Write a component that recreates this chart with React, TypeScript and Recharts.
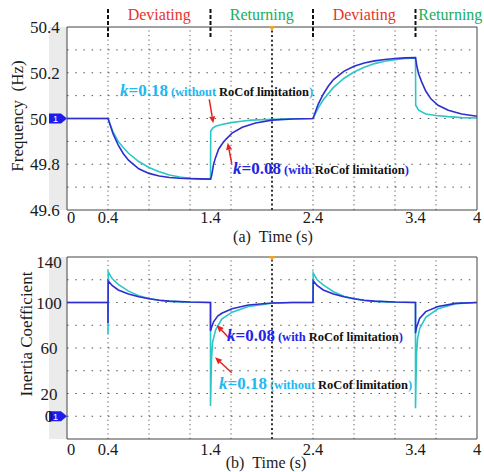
import React from 'react';
import { LineChart, Line, XAxis, YAxis, ReferenceLine, ReferenceDot, Label } from 'recharts';

const FONT = "'Liberation Serif', 'Times New Roman', Times, serif";
const BLUE = '#2e2ed0';
const CYAN = '#2cc6c8';
const RED = '#e52222';

// ---- axes / annotations ----
const timeTicks = [0, 0.4, 1.4, 2.4, 3.4, 4];
const timeGrid = [0.4, 0.8, 1.2, 1.6, 2.4, 2.8, 3.2, 3.6];
const timeCenter = 2;
const eventTimes = [0.4, 1.4, 2.4, 3.4];
const phaseLabels = ['Deviating', 'Returning', 'Deviating', 'Returning'];
const phaseColors = ['#e8332b', '#20ad5c', '#e8332b', '#20ad5c'];
const phaseCenters = [0.9, 1.9, 2.9, 3.74];

const freqTicks = [49.6, 49.8, 50, 50.2, 50.4];
const freqGrid = [49.7, 49.8, 49.9, 50, 50.1, 50.2, 50.3];
const inertiaTicks = [0, 20, 60, 100, 140];
const inertiaGrid = [0, 20, 40, 60, 80, 100, 120];

const minorTime = Array.from({ length: 51 }, (_, i) => +(i * 0.08).toFixed(2));
const minorFreq = Array.from({ length: 41 }, (_, i) => +(49.6 + i * 0.02).toFixed(2));
const minorInertia = Array.from({ length: 41 }, (_, i) => -20 + i * 4);

// ---- (a) frequency, k = 0.08 (with RoCoF limitation) ----
const freqBlueT = [0, 0.4, 0.45, 0.5, 0.55, 0.6, 0.7, 0.8, 0.9, 1.0, 1.1, 1.2, 1.3, 1.4, 1.41, 1.417, 1.43, 1.45, 1.48, 1.52, 1.55, 1.61, 1.71, 1.84, 2.0, 2.2, 2.4, 2.45, 2.5, 2.55, 2.6, 2.7, 2.8, 2.9, 3.0, 3.1, 3.2, 3.3, 3.4, 3.415, 3.43, 3.46, 3.5, 3.55, 3.62, 3.72, 3.85, 4.0];
const freqBlueV = [50, 50, 49.932, 49.884, 49.846, 49.818, 49.78, 49.76, 49.749, 49.742, 49.739, 49.737, 49.736, 49.735, 49.748, 49.765, 49.8, 49.83, 49.867, 49.893, 49.909, 49.936, 49.962, 49.98, 49.993, 49.998, 50, 50.062, 50.106, 50.142, 50.17, 50.206, 50.228, 50.243, 50.252, 50.258, 50.262, 50.265, 50.266, 50.225, 50.196, 50.16, 50.12, 50.086, 50.058, 50.036, 50.02, 50.01];
// ---- (a) frequency, k = 0.18 (without RoCoF limitation) ----
const freqCyanT = [0, 0.4, 0.45, 0.5, 0.55, 0.6, 0.7, 0.8, 0.9, 1.0, 1.1, 1.2, 1.3, 1.4, 1.402, 1.42, 1.45, 1.5, 1.6, 1.7, 1.8, 2.0, 2.2, 2.4, 2.45, 2.5, 2.6, 2.7, 2.8, 2.9, 3.0, 3.1, 3.2, 3.3, 3.4, 3.402, 3.43, 3.5, 3.6, 3.72, 3.85, 4.0];
const freqCyanV = [50, 50, 49.94, 49.9, 49.872, 49.848, 49.812, 49.786, 49.767, 49.753, 49.744, 49.739, 49.736, 49.735, 49.945, 49.957, 49.966, 49.973, 49.982, 49.988, 49.993, 49.997, 49.999, 50, 50.045, 50.082, 50.136, 50.175, 50.203, 50.224, 50.24, 50.25, 50.257, 50.262, 50.265, 50.058, 50.036, 50.02, 50.013, 50.008, 50.004, 50.002];

// ---- (b) inertia coefficient, k = 0.08 ----
const inerBlueT = [0, 0.4, 0.4, 0.402, 0.44, 0.5, 0.6, 0.7, 0.8, 0.9, 1.0, 1.2, 1.4, 1.4, 1.41, 1.43, 1.47, 1.51, 1.61, 1.77, 2.0, 2.2, 2.4, 2.402, 2.44, 2.5, 2.6, 2.7, 2.8, 2.9, 3.0, 3.2, 3.4, 3.4, 3.41, 3.44, 3.5, 3.62, 3.79, 4.0];
const inerBlueV = [100, 100, 82, 119, 115, 111, 107.5, 105, 103.3, 102, 101.2, 100.4, 100, 75, 78, 83, 88, 90.5, 94.5, 97.8, 99.5, 100, 100, 119, 115, 111, 107.5, 105, 103.3, 102, 101.2, 100.4, 100, 73, 78, 86, 92, 96.5, 99.2, 100];
// ---- (b) inertia coefficient, k = 0.18 ----
const inerCyanT = [0, 0.4, 0.4, 0.402, 0.44, 0.5, 0.6, 0.7, 0.8, 0.9, 1.0, 1.2, 1.4, 1.4, 1.41, 1.42, 1.45, 1.51, 1.61, 1.77, 2.0, 2.2, 2.4, 2.402, 2.44, 2.5, 2.6, 2.7, 2.8, 2.9, 3.0, 3.2, 3.4, 3.4, 3.41, 3.42, 3.44, 3.5, 3.62, 3.79, 4.0];
const inerCyanV = [100, 100, 72, 127, 121, 116, 110, 106, 103.5, 102, 101, 100.2, 100, 9, 50, 65, 76, 85.5, 91.5, 96.5, 99.4, 100, 100, 126, 120, 115.5, 109.5, 105.5, 103.3, 101.8, 101, 100.2, 100, 7, 55, 68, 77, 87, 94.5, 99, 100];

const zip = (t: number[], v: number[]) => t.map((x, i) => ({ t: x, v: v[i] }));
const freqBlue = zip(freqBlueT, freqBlueV);
const freqCyan = zip(freqCyanT, freqCyanV);
const inerBlue = zip(inerBlueT, inerBlueV);
const inerCyan = zip(inerCyanT, inerCyanV);

// ---- shapes ----
const Arrow = (p: any) => {
  const { x1, y1, x2, y2 } = p;
  const ang = Math.atan2(y2 - y1, x2 - x1);
  const L = 7, W = 3;
  const bx = x2 - L * Math.cos(ang), by = y2 - L * Math.sin(ang);
  const px = -Math.sin(ang) * W, py = Math.cos(ang) * W;
  return (
    <g>
      <line x1={x1} y1={y1} x2={bx} y2={by} stroke={RED} strokeWidth={1.5} />
      <polygon points={`${x2},${y2} ${bx + px},${by + py} ${bx - px},${by - py}`} fill={RED} />
    </g>
  );
};

const Anno = (k: string, note: string, color: string) => (p: any) => (
  <text x={p.cx} y={p.cy} fontFamily={FONT} fontWeight="bold">
    <tspan fill={color} fontSize={17}><tspan fontStyle="italic">k</tspan>={k}</tspan>
    <tspan fill={color} fontSize={12.5} dx={3}>{note}</tspan>
    <tspan fill="#111" fontSize={12.5} dx={3}>RoCof limitation</tspan>
    <tspan fill={color} fontSize={12.5}>)</tspan>
  </text>
);

const ChannelMarker = (p: any) => (
  <g>
    <path d={`M${p.cx - 18},${p.cy - 5} L${p.cx - 6},${p.cy - 5} L${p.cx},${p.cy} L${p.cx - 6},${p.cy + 5} L${p.cx - 18},${p.cy + 5} Z`} fill="#1c1cee" />
    <text x={p.cx - 14} y={p.cy + 3.5} fontSize={9} fill="#fff" fontFamily="Arial">1</text>
  </g>
);

const OrangeMark = (p: any) => (
  <polygon points={`${p.cx - 3},${p.cy - 1} ${p.cx + 3},${p.cy - 1} ${p.cx},${p.cy + 4}`} fill="#f2a322" />
);

const fmt = (v: number) => String(+v.toFixed(2));

const frame = (minorY: number[], yDomain: number[], vDash: string) => [
  <XAxis key="xt" xAxisId="top" orientation="top" type="number" domain={[0, 4]} ticks={minorTime} interval={0} mirror height={1} tickSize={3} tick={false} stroke="#444" allowDataOverflow />,
  <XAxis key="xb" xAxisId="bot" orientation="bottom" type="number" domain={[0, 4]} ticks={minorTime} interval={0} mirror height={1} tickSize={3} tick={false} axisLine={false} stroke="#444" allowDataOverflow />,
  <YAxis key="yr" yAxisId="right" orientation="right" type="number" domain={yDomain} ticks={minorY} interval={0} mirror width={1} tickSize={3} tick={false} stroke="#444" allowDataOverflow />,
  <YAxis key="yl" yAxisId="leftm" orientation="left" type="number" domain={yDomain} ticks={minorY} interval={0} mirror width={1} tickSize={3} tick={false} axisLine={false} stroke="#444" allowDataOverflow />,
  ...timeGrid.map((t) => <ReferenceLine key={'gx' + t} x={t} stroke="#555" strokeDasharray={vDash} />),
  <ReferenceLine key="gc" x={timeCenter} stroke="#333" strokeWidth={2} strokeDasharray="2 2.55" />,
];

export default function App() {
  return (
    <div style={{ position: 'absolute', left: 0, top: 0, width: 484, height: 472, overflow: 'hidden', background: '#fff', fontFamily: FONT }}>
      <div style={{ position: 'absolute', left: 49, top: 27, width: 18, height: 183, background: '#ebebeb' }} />
      <div style={{ position: 'absolute', left: 49, top: 257, width: 18, height: 182, background: '#ebebeb' }} />

      {/* (a) Frequency */}
      <div style={{ position: 'absolute', left: 0, top: 0 }}>
        <LineChart width={484} height={250} margin={{ top: 27, right: 7, left: 27, bottom: 0 }}>
          <XAxis dataKey="t" type="number" domain={[0, 4]} ticks={timeTicks} interval={0} tickLine={false} tickSize={0} tickMargin={0} height={40} stroke="#444" allowDataOverflow
            tick={(p: any) => (
              <text x={p.x + (p.payload.value === 0 ? 4 : 0)} y={p.y + 13} textAnchor="middle" fontSize={16.5} fontFamily={FONT} fill="#1a1a1a">{fmt(p.payload.value)}</text>
            )}>
            <Label content={() => (
              <text x={273} y={242} textAnchor="middle" fontSize={16} fontFamily={FONT} fill="#1a1a1a">(a)&#160;&#160;Time (s)</text>
            )} />
          </XAxis>
          <YAxis type="number" domain={[49.6, 50.4]} ticks={freqTicks} interval={0} width={40} tickLine={false} stroke="#444" allowDataOverflow
            tick={(p: any) => (
              <text x={30} y={p.y + 6} textAnchor="start" fontSize={17} fontFamily={FONT} fill="#1a1a1a">{fmt(p.payload.value)}</text>
            )}>
            <Label content={() => (
              <text x={23} y={116} transform="rotate(-90 23 116)" textAnchor="middle" fontSize={17} fontFamily={FONT} fill="#1a1a1a">Frequency&#160;&#160;(Hz)</text>
            )} />
          </YAxis>
          {frame(minorFreq, [49.6, 50.4], '1.2 3.375')}
          {freqGrid.map((f) => <ReferenceLine key={'gy' + f} y={f} stroke="#555" strokeDasharray="1.5 6.7" />)}
          <Line data={freqCyan} dataKey="v" stroke={CYAN} strokeWidth={1.6} dot={false} isAnimationActive={false} />
          <Line data={freqBlue} dataKey="v" stroke={BLUE} strokeWidth={1.6} dot={false} isAnimationActive={false} />
          {eventTimes.map((t) => (
            <ReferenceLine key={'ev' + t} segment={[{ x: t, y: 50.479 }, { x: t, y: 50.356 }]} stroke="#111" strokeWidth={2} strokeDasharray="4 2" ifOverflow="visible" />
          ))}
          {phaseLabels.map((name, i) => (
            <ReferenceDot key={'ph' + i} x={phaseCenters[i]} y={50.431} r={1} ifOverflow="visible"
              shape={(p: any) => <text x={p.cx} y={p.cy} textAnchor="middle" fontSize={16} fontFamily={FONT} fill={phaseColors[i]}>{name}</text>} />
          ))}
          <ReferenceDot x={2} y={50.4} r={1} ifOverflow="visible" shape={OrangeMark} />
          <ReferenceDot x={0} y={50} r={1} ifOverflow="visible" shape={ChannelMarker} />
          <ReferenceDot x={0.517} y={50.098} r={1} shape={Anno('0.18', '(without', '#22b8f0')} />
          <ReferenceDot x={1.62} y={49.757} r={1} shape={Anno('0.08', '(with', '#2424e6')} />
          <ReferenceLine segment={[{ x: 1.388, y: 50.084 }, { x: 1.427, y: 49.979 }]} shape={Arrow} />
          <ReferenceLine segment={[{ x: 1.607, y: 49.804 }, { x: 1.568, y: 49.894 }]} shape={Arrow} />
        </LineChart>
      </div>

      {/* (b) Inertia coefficient */}
      <div style={{ position: 'absolute', left: 0, top: 240 }}>
        <LineChart width={484} height={245} margin={{ top: 17, right: 7, left: 27, bottom: 0 }}>
          <XAxis dataKey="t" type="number" domain={[0, 4]} ticks={timeTicks} interval={0} tickLine={false} tickSize={0} tickMargin={0} height={46} stroke="#444" allowDataOverflow
            tick={(p: any) => (
              <text x={p.x + (p.payload.value === 0 ? 4 : 0)} y={p.y + 16} textAnchor="middle" fontSize={16.5} fontFamily={FONT} fill="#1a1a1a">{fmt(p.payload.value)}</text>
            )}>
            <Label content={() => (
              <text x={266} y={228} textAnchor="middle" fontSize={16} fontFamily={FONT} fill="#1a1a1a">(b)&#160;&#160;Time (s)</text>
            )} />
          </XAxis>
          <YAxis type="number" domain={[-20, 140]} ticks={inertiaTicks} interval={0} width={40} tickLine={false} stroke="#444" allowDataOverflow
            tick={(p: any) => (
              <text x={49} y={p.y + (p.payload.value === 140 ? 11 : 6)} textAnchor="middle" fontSize={17} fontFamily={FONT} fill="#1a1a1a">{fmt(p.payload.value)}</text>
            )}>
            <Label content={() => (
              <text x={32} y={94} transform="rotate(-90 32 94)" textAnchor="middle" fontSize={17} fontFamily={FONT} fill="#1a1a1a">Inertia Coefficient</text>
            )} />
          </YAxis>
          {frame(minorInertia, [-20, 140], '1.2 3.35')}
          {inertiaGrid.map((f) => <ReferenceLine key={'gy' + f} y={f} stroke="#555" strokeDasharray="1.5 6.7" />)}
          <Line data={inerCyan} dataKey="v" stroke={CYAN} strokeWidth={1.6} dot={false} isAnimationActive={false} />
          <Line data={inerBlue} dataKey="v" stroke={BLUE} strokeWidth={1.6} dot={false} isAnimationActive={false} />
          <ReferenceDot x={2} y={140} r={1} ifOverflow="visible" shape={OrangeMark} />
          <ReferenceDot x={0} y={0} r={1} ifOverflow="visible" shape={ChannelMarker} />
          <ReferenceDot x={1.561} y={66.2} r={1} shape={Anno('0.08', '(with', '#2424e6')} />
          <ReferenceDot x={1.483} y={24} r={1} shape={Anno('0.18', '(without', '#22b8f0')} />
          <ReferenceLine segment={[{ x: 1.58, y: 68.8 }, { x: 1.46, y: 80.2 }]} shape={Arrow} />
          <ReferenceLine segment={[{ x: 1.607, y: 38.3 }, { x: 1.444, y: 51.8 }]} shape={Arrow} />
        </LineChart>
      </div>
    </div>
  );
}
